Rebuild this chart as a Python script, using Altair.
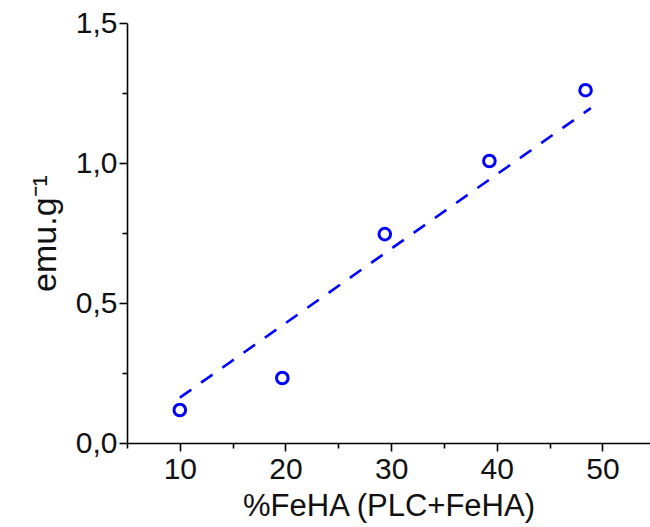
import altair as alt
import pandas as pd

# measured points
feha_pct = [10.0, 19.7, 29.4, 39.3, 48.4]
emu_g = [0.118, 0.232, 0.746, 1.007, 1.26]

# dashed linear fit (end points as drawn)
fit_x = [10.0, 48.9]
fit_y = [0.162, 1.196]

x_ticks = [5, 10, 15, 20, 25, 30, 35, 40, 45, 50]
y_ticks = [0, 0.25, 0.5, 0.75, 1.0, 1.25, 1.5]

pts = pd.DataFrame({"x": feha_pct, "y": emu_g})
fit = pd.DataFrame({"x": fit_x, "y": fit_y})

FONT = "Liberation Sans"

x_scale = alt.Scale(domain=[5, 54.5], nice=False, zero=False)
y_scale = alt.Scale(domain=[0, 1.5], nice=False, zero=False)

x_axis = alt.Axis(
    title="%FeHA (PLC+FeHA)",
    values=x_ticks,
    labelExpr="datum.value % 10 === 0 ? datum.label : ''",
    tickSize={"condition": {"test": "datum.value % 10 === 0", "value": 8}, "value": 5},
    grid=False,
    domainColor="black", tickColor="black",
    domainWidth=1.6, tickWidth=1.6,
    labelFont=FONT, labelFontSize=30, labelColor="#111",
    labelPadding=3,
    titleFont=FONT, titleFontSize=31, titleFontWeight="normal", titleColor="#111",
    titlePadding=7,
    labelFlush=False,
)
y_axis = alt.Axis(
    title="emu.g⁻¹",
    values=y_ticks,
    labelExpr="abs(datum.value*2 - round(datum.value*2)) < 1e-6 ? replace(format(datum.value, '.1f'), '.', ',') : ''",
    tickSize={"condition": {"test": "abs(datum.value*2 - round(datum.value*2)) < 1e-6", "value": 8}, "value": 5},
    grid=False,
    domainColor="black", tickColor="black",
    domainWidth=1.6, tickWidth=1.6,
    labelFont=FONT, labelFontSize=30, labelColor="#111",
    labelPadding=2,
    titleFont=FONT, titleFontSize=34, titleFontWeight="normal", titleColor="#111",
    titlePadding=13,
    labelFlush=False,
)

line = alt.Chart(fit).mark_line(
    color="#0000FF", strokeWidth=2.6, strokeDash=[14, 12]
).encode(
    x=alt.X("x:Q", scale=x_scale, axis=x_axis),
    y=alt.Y("y:Q", scale=y_scale, axis=y_axis),
)

points = alt.Chart(pts).mark_point(
    shape="circle", filled=False, color="#0000FF", size=135, strokeWidth=3, opacity=1
).encode(
    x=alt.X("x:Q", scale=x_scale),
    y=alt.Y("y:Q", scale=y_scale),
)

chart = alt.layer(line, points).properties(
    width=523, height=420,
    autosize=alt.AutoSizeParams(type="none"),
    padding={"left": 127, "top": 23, "right": 0, "bottom": 84},
    background="white",
).configure_view(stroke=None)

chart.save("out.html", embed_options={"renderer": "svg", "actions": False})
